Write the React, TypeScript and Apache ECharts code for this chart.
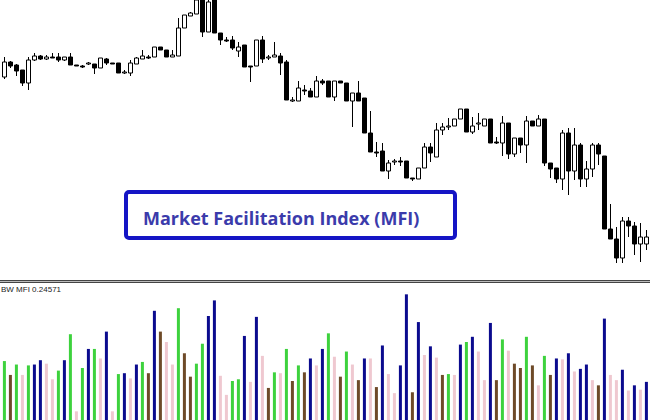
import React, { useEffect, useRef } from "react";
import * as echarts from "echarts";

// Price candles (arbitrary price units)
const opens = [203,218,215,210,197,220,224,221,223,223,220,223,215,214,216,216,212,221,217,217,207,207,216,221,223,223,233,230,223,224,252,264,266,285,248,285,247,240,240,229,235,214,214,240,222,223,224,218,179,179,190,189,183,199,199,183,199,197,179,187,182,147,128,129,109,118,119,119,102,101,112,133,123,150,153,154,161,171,148,156,154,161,138,137,157,126,142,135,159,154,161,117,112,101,147,109,135,101,111,135,124,51,41,22,59,54,36,36];
const closes = [218,214,209,197,220,224,221,223,222,220,223,215,214,213,217,212,222,217,216,207,208,217,222,224,222,233,230,223,225,252,265,267,280,248,278,247,240,239,232,233,213,213,240,221,223,225,217,180,180,192,189,183,199,197,183,199,197,179,187,179,147,128,127,109,117,119,118,102,101,112,133,127,150,153,154,161,171,148,154,157,161,137,137,157,126,142,135,159,154,161,117,111,101,147,109,135,101,111,135,126,51,41,22,59,54,36,43,43];
const lows = [201,212,204,194,190,219,220,220,222,218,219,215,214,212,215,206,212,215,216,207,206,204,216,221,221,223,230,223,223,224,252,264,266,243,248,247,235,238,230,223,213,198,214,217,220,223,205,180,178,179,185,183,183,195,183,179,197,179,153,179,147,128,123,109,101,115,114,102,99,101,112,118,123,145,150,154,161,148,146,150,154,137,136,124,121,123,127,117,154,154,114,102,97,90,85,100,93,93,103,115,51,41,17,17,43,25,18,30];
const highs = [223,219,216,210,223,227,225,225,227,227,223,227,215,215,218,216,222,222,217,217,210,220,223,230,225,233,233,230,230,262,265,268,285,285,285,285,247,243,244,238,235,214,240,244,225,238,227,220,183,199,195,192,204,201,199,199,199,197,187,199,182,169,138,137,120,121,123,119,102,112,137,137,157,157,162,161,171,171,163,167,161,161,143,164,157,142,142,164,159,165,161,117,112,150,152,152,137,119,137,137,124,76,53,63,63,58,57,50];

// BW MFI histogram (arbitrary units) and bar colour classes
const mfiValues = [68,52,64,52,63,64,69,65,47,57,69,99,10,60,82,82,71,102,10,53,54,48,64,67,54,126,102,90,64,129,77,50,65,88,120,138,51,29,45,47,97,44,119,74,37,55,54,82,45,63,55,71,63,82,100,73,50,79,64,46,71,71,38,86,53,31,63,145,32,113,75,85,72,52,53,52,87,90,96,79,46,112,46,93,80,65,60,96,63,40,74,52,71,70,77,56,59,64,46,40,117,52,46,58,34,40,35,44];
const mfiColors = ["green","brown","green","pink","green","blue","blue","pink","pink","green","blue","green","pink","green","blue","green","pink","blue","pink","green","blue","pink","blue","green","brown","blue","brown","pink","pink","green","brown","brown","green","green","blue","blue","pink","pink","green","green","blue","pink","blue","pink","brown","green","pink","green","brown","green","brown","blue","pink","blue","green","pink","brown","green","pink","brown","blue","pink","brown","blue","pink","pink","blue","blue","brown","blue","pink","blue","pink","brown","green","pink","blue","green","blue","pink","pink","blue","brown","green","pink","brown","brown","green","brown","pink","green","brown","blue","pink","blue","pink","blue","blue","pink","brown","blue","pink","pink","blue","pink","blue","pink","blue"];

const palette: Record<string, string> = {
  green: "#3dd23d",
  brown: "#6e4a28",
  blue: "#0b0b8e",
  pink: "#efc8d0",
};

const indicatorLabel = "BW MFI 0.24571";
const titleText = "Market Facilitation Index (MFI)";

export default function App() {
  const ref = useRef<HTMLDivElement>(null);
  useEffect(() => {
    if (!ref.current) return;
    const chart = echarts.init(ref.current, null, { renderer: "svg" });
    const cats = opens.map((_, i) => String(i));
    chart.setOption({
      animation: false,
      backgroundColor: "#ffffff",
      grid: [
        { left: 1.4, right: 0.6, top: 0, height: 280 },
        { left: 1.4, right: 0.6, top: 290, bottom: -20 },
      ],
      xAxis: [
        { type: "category", data: cats, gridIndex: 0, show: false },
        { type: "category", data: cats, gridIndex: 1, show: false },
      ],
      yAxis: [
        { type: "value", gridIndex: 0, min: 0, max: 280, show: false, splitLine: { show: false } },
        { type: "value", gridIndex: 1, min: 0, max: 150, show: false, splitLine: { show: false } },
      ],
      series: [
        {
          type: "candlestick",
          xAxisIndex: 0,
          yAxisIndex: 0,
          barWidth: 4,
          data: opens.map((o, i) => [o, closes[i], lows[i], highs[i]]),
          itemStyle: {
            color: "#ffffff",
            color0: "#000000",
            borderColor: "#000000",
            borderColor0: "#000000",
            borderWidth: 1,
          },
        },
        {
          type: "bar",
          xAxisIndex: 1,
          yAxisIndex: 1,
          barWidth: 3,
          data: mfiValues.map((v, i) => ({ value: v, itemStyle: { color: palette[mfiColors[i]] } })),
        },
      ],
      graphic: [
        { type: "line", shape: { x1: 0, y1: 280.5, x2: 650, y2: 280.5 }, style: { stroke: "#444444", lineWidth: 1 } },
        { type: "line", shape: { x1: 0, y1: 281.5, x2: 650, y2: 281.5 }, style: { stroke: "#bbbbbb", lineWidth: 1 } },
        { type: "line", shape: { x1: 0, y1: 282.5, x2: 650, y2: 282.5 }, style: { stroke: "#444444", lineWidth: 1 } },
        {
          type: "text",
          x: 1,
          y: 289,
          style: { text: indicatorLabel, fill: "#222222", font: "8px 'Liberation Sans'", verticalAlign: "middle" },
        },
        {
          type: "rect",
          shape: { x: 126, y: 192, width: 329, height: 46, r: 3 },
          style: { fill: "#ffffff", stroke: "#1515c5", lineWidth: 4 },
        },
        {
          type: "text",
          x: 143,
          y: 218,
          style: { text: titleText, fill: "#3b3bab", font: "bold 18px 'Open Sans'", verticalAlign: "middle" },
        },
      ],
    });
    return () => chart.dispose();
  }, []);
  return <div ref={ref} style={{ position: "absolute", left: 0, top: 0, width: 650, height: 420 }} />;
}
